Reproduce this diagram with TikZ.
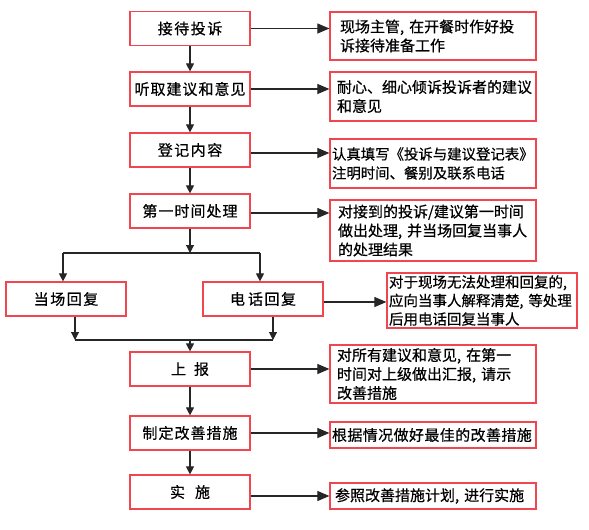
\documentclass[tikz,border=0pt]{standalone}
\usepackage{fontspec}
\setmainfont{Noto Sans CJK SC}[FakeBold=0.6]
\usetikzlibrary{arrows.meta,calc}
\definecolor{boxred}{HTML}{F04650}
\begin{document}
\begin{tikzpicture}[x=1pt,y=-1pt,
  every node/.style={font=\fontsize{15}{19}\selectfont},
  stepbox/.style={draw=boxred,line width=1.2pt,minimum width=120pt,minimum height=34pt,inner sep=0pt},
  notebox/.style={draw=boxred,line width=1.2pt,minimum width=206pt,inner sep=0pt,align=left,anchor=center},
  harr/.style={draw=black!85,line width=1.1pt,-{Triangle[length=12pt,width=10pt]}},
  varr/.style={draw=black!85,line width=1.1pt,-{Triangle[length=8pt,width=8pt]}},
  ln/.style={draw=black!85,line width=1.1pt}]
\useasboundingbox (0,0) rectangle (589,530);
% main steps
\node[stepbox] (b1) at (190,28.5) {接\kern1.5pt 待\kern1.5pt 投\kern1.5pt 诉};
\node[stepbox] (b2) at (190,89) {听\kern1pt 取\kern1pt 建\kern1pt 议\kern1pt 和\kern1pt 意\kern1pt 见};
\node[stepbox] (b3) at (190,150) {登\kern1.5pt 记\kern1.5pt 内\kern1.5pt 容};
\node[stepbox] (b4) at (190,211) {第\kern1pt 一\kern1pt 时\kern1pt 间\kern1pt 处\kern1pt 理};
\node[stepbox] (bl) at (66,299) {当\kern1.5pt 场\kern1.5pt 回\kern1.5pt 复};
\node[stepbox] (br) at (263,299) {电\kern3pt 话\kern1.5pt 回\kern1.5pt 复};
\node[stepbox] (b5) at (190,369) {上\kern8pt 报};
\node[stepbox] (b6) at (190,433) {制\kern1pt 定\kern1pt 改\kern1pt 善\kern1pt 措\kern1pt 施};
\node[stepbox] (b7) at (190,492) {实\kern10pt 施};
% notes
\node[notebox,minimum height=48pt,text width=186pt] (r1) at (433,36) {现场主管,~在开餐时作好投\\诉接待准备工作};
\node[notebox,minimum height=49pt,text width=192pt] (r2) at (433,96.5) {耐心、细心倾诉投诉者的建议\\和意见};
\node[notebox,minimum height=49pt,text width=202pt,font=\fontsize{14.4}{19}\selectfont] (r3) at (433,163.5) {认真填写《投诉与建议登记表》\\注明时间、餐别及联系电话};
\node[notebox,minimum height=61pt,text width=190pt] (r4) at (433,230.5) {对接到的投诉/建议第一时间\\做出处理,~并当场回复当事人\\的处理结果};
\node[notebox,minimum width=190pt,minimum height=55pt,text width=186pt,font=\fontsize{14.5}{18.5}\selectfont] (r5) at (482,300.5) {对于现场无法处理和回复的,\\应向当事人解释清楚,~等处理\\后用电话回复当事人};
\node[notebox,minimum height=58pt,text width=192pt] (r6) at (433,374) {对所有建议和意见,~在第一\\时间对上级做出汇报,~请示\\改善措施};
\node[notebox,minimum height=26pt,text width=202pt] (r7) at (433,435) {根\kern0.4pt 据\kern0.4pt 情\kern0.4pt 况\kern0.4pt 做\kern0.4pt 好\kern0.4pt 最\kern0.4pt 佳\kern0.4pt 的\kern0.4pt 改\kern0.4pt 善\kern0.4pt 措\kern0.4pt 施};
\node[notebox,minimum height=26pt,text width=196pt] (r8) at (433,496) {参照改善措施计划,~进行实施};
% vertical flow
\draw[varr] (b1) -- (b2);
\draw[varr] (b2) -- (b3);
\draw[varr] (b3) -- (b4);
\coordinate (s) at (190,253);
\coordinate (sl) at (63,253);
\coordinate (sr) at (260,253);
\draw[varr] (b4) -- (s);
\draw[ln] (sl) -- (sr);
\draw[varr] (sl) -- (sl |- bl.north);
\draw[varr] (sr) -- (sr |- br.north);
\coordinate (ml) at (75,340);
\coordinate (mr) at (273,340);
\coordinate (m) at (190,340);
\draw[varr] (ml |- bl.south) -- (ml);
\draw[varr] (mr |- br.south) -- (mr);
\draw[ln] (ml) -- (mr);
\draw[varr] (m) -- (b5);
\draw[varr] (b5) -- (b6);
\draw[varr] (b6) -- (b7);
% horizontal arrows
\draw[harr] (b1.east) -- (b1.east -| r1.west);
\draw[harr] (b2.east) -- (b2.east -| r2.west);
\draw[harr] ([yshift=-3pt]b3.east) -- ([yshift=-3pt]b3.east -| r3.west);
\draw[harr] ([yshift=-2pt]b4.east) -- ([yshift=-2pt]b4.east -| r4.west);
\draw[harr] ([yshift=-3pt]br.east) -- ([yshift=-3pt]br.east -| r5.west);
\draw[harr] (b5.east) -- (b5.east -| r6.west);
\draw[harr] (b6.east) -- (b6.east -| r7.west);
\draw[harr] ([yshift=-4pt]b7.east) -- ([yshift=-4pt]b7.east -| r8.west);
\end{tikzpicture}
\end{document}
